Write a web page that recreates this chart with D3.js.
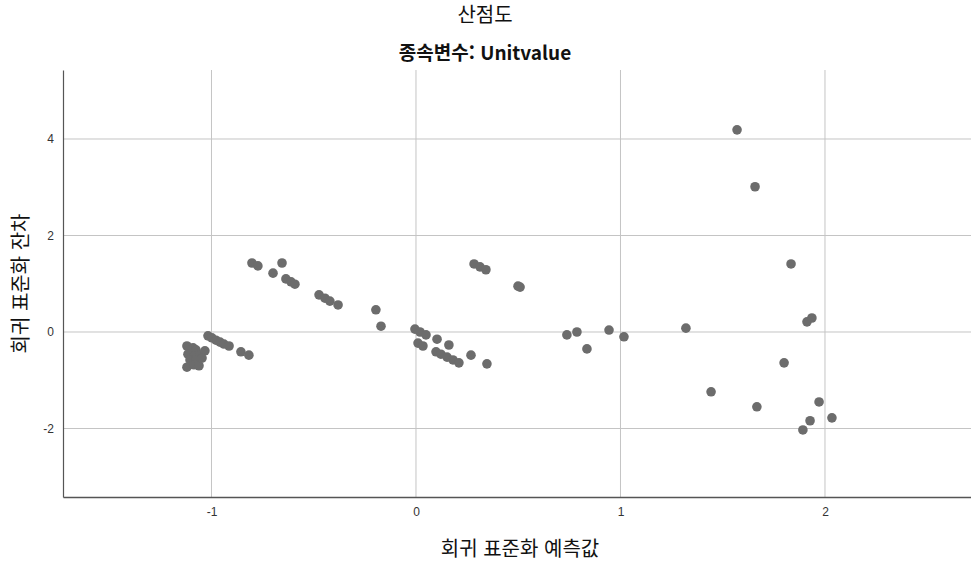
<!DOCTYPE html>
<html lang="ko">
  <head>
    <meta charset="utf-8" />
    <title>산점도</title>
    <script src="https://cdn.jsdelivr.net/npm/d3@7"></script>
    <style>
      body { margin: 0; background: #fff; }
      text { font-family: "Liberation Sans", Arial, sans-serif; }
      .kr { font-family: "Noto Sans CJK KR", sans-serif; fill: #111; }
      .grid line { stroke: #c4c4c4; stroke-width: 1; }
      .axis path, .axis line { stroke: #555; }
      .axis text { font-size: 12px; fill: #333; }
      circle.pt { fill: #6c6c6c; }
    </style>
  </head>
  <body>
    <script>
      // predicted (standardized), residual (standardized)
      let xVals = [
        -1.120, -1.090, -1.076, -1.115, -1.086, -1.056, -1.032, -1.105, -1.076, -1.120, -1.086, -1.061, -1.046,
        -1.017, -0.998, -0.978, -0.958, -0.939, -0.914, -0.856, -0.817,
        -0.802, -0.773, -0.655, -0.699, -0.636, -0.611, -0.592, -0.474, -0.445, -0.421, -0.381, -0.196, -0.171,
        -0.005, 0.020, 0.049, 0.103, 0.161, 0.010, 0.034, 0.098, 0.122, 0.152, 0.181, 0.210, 0.269, 0.347,
        0.284, 0.313, 0.342, 0.499, 0.509,
        0.738, 0.787, 0.836, 0.944, 1.017, 1.320,
        1.570, 1.658, 1.834, 1.912, 1.936, 1.800, 1.443, 1.667, 1.971, 1.927, 2.034, 1.892
      ];
      let yVals = [
        -0.29, -0.33, -0.37, -0.46, -0.50, -0.48, -0.39, -0.58, -0.58, -0.73, -0.68, -0.70, -0.54,
        -0.08, -0.12, -0.17, -0.21, -0.25, -0.29, -0.41, -0.48,
        1.43, 1.37, 1.43, 1.22, 1.10, 1.04, 0.99, 0.77, 0.70, 0.64, 0.56, 0.46, 0.12,
        0.06, 0.00, -0.06, -0.15, -0.27, -0.23, -0.29, -0.41, -0.46, -0.52, -0.58, -0.64, -0.48, -0.66,
        1.41, 1.35, 1.29, 0.95, 0.93,
        -0.06, 0.00, -0.35, 0.04, -0.10, 0.08,
        4.19, 3.01, 1.41, 0.21, 0.29, -0.64, -1.24, -1.55, -1.45, -1.84, -1.78, -2.03
      ];
      let xTicks = [-1, 0, 1, 2];
      let yTicks = [-2, 0, 2, 4];

      let w = 971;
      let h = 564;
      let mLeft = 63, mRight = 971, mTop = 70, mBottom = 497;

      let data = xVals.map((x, i) => ({ x: x, y: yVals[i] }));

      let x_scale = d3.scaleLinear().domain([-1.726, 2.714]).range([mLeft, mRight]);
      let y_scale = d3.scaleLinear().domain([-3.42, 5.43]).range([mBottom, mTop]);

      let svg = d3.select("body").append("svg").attr("width", w).attr("height", h);

      // grid
      svg.append("g").attr("class", "grid")
        .selectAll("line.v").data(xTicks).join("line")
        .attr("x1", d => x_scale(d)).attr("x2", d => x_scale(d))
        .attr("y1", mTop).attr("y2", mBottom);
      svg.append("g").attr("class", "grid")
        .selectAll("line.h").data(yTicks).join("line")
        .attr("x1", mLeft).attr("x2", mRight)
        .attr("y1", d => y_scale(d)).attr("y2", d => y_scale(d));

      // axes
      let fmt = d => String(d);
      let x_axis = d3.axisBottom(x_scale).tickValues(xTicks).tickFormat(fmt).tickSize(0).tickPadding(10);
      let y_axis = d3.axisLeft(y_scale).tickValues(yTicks).tickFormat(fmt).tickSize(0).tickPadding(9);

      svg.append("g").attr("class", "axis")
        .attr("transform", `translate(0,${mBottom})`)
        .call(x_axis)
        .call(g => g.select(".domain").attr("stroke-width", 1.5));
      svg.append("g").attr("class", "axis")
        .attr("transform", `translate(${mLeft},0)`)
        .call(y_axis)
        .call(g => g.select(".domain").attr("stroke-width", 1.2));

      // points
      svg.append("g").selectAll("circle").data(data).join("circle")
        .attr("class", "pt")
        .attr("cx", d => x_scale(d.x))
        .attr("cy", d => y_scale(d.y))
        .attr("r", 4.8);

      // titles
      svg.append("text").attr("class", "kr")
        .attr("x", 485).attr("y", 22).attr("text-anchor", "middle")
        .style("font-size", "20px").text("산점도");
      svg.append("text").attr("class", "kr")
        .attr("x", 485).attr("y", 60).attr("text-anchor", "middle")
        .style("font-size", "19px").style("font-weight", "bold").text("종속변수: Unitvalue");

      svg.append("text").attr("class", "kr")
        .attr("x", (mLeft + mRight) / 2 + 3).attr("y", 556).attr("text-anchor", "middle")
        .style("font-size", "20px").text("회귀 표준화 예측값");
      svg.append("text").attr("class", "kr")
        .attr("transform", `translate(28,${(mTop + mBottom) / 2}) rotate(-90)`)
        .attr("text-anchor", "middle")
        .style("font-size", "20px").text("회귀 표준화 잔차");
    </script>
  </body>
</html>
